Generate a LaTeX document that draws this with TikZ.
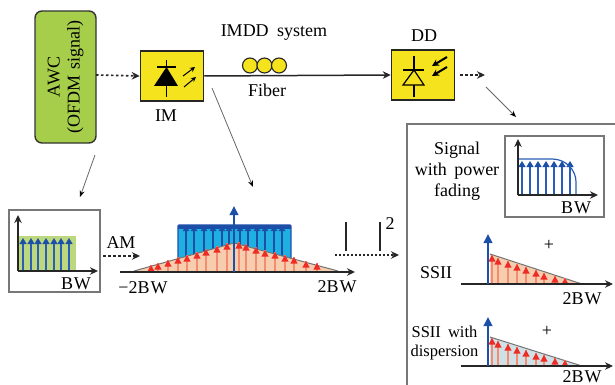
\documentclass[tikz,border=0pt]{standalone}
\usepackage{fontspec}
\setmainfont{Liberation Serif}
\usetikzlibrary{arrows.meta}
\definecolor{awcgreen}{HTML}{A6CE4B}
\definecolor{boxyellow}{HTML}{F5E31E}
\definecolor{sigblue}{HTML}{2A5DB5}
\definecolor{deepblue}{HTML}{1B4FA8}
\definecolor{skyblue}{HTML}{1FB0E2}
\definecolor{softgreen}{HTML}{BDD77E}
\definecolor{peach}{HTML}{F6CDAE}
\definecolor{paleblue}{HTML}{CFE1E6}
\definecolor{sigred}{HTML}{EE2B24}
\definecolor{salmon}{HTML}{F58C70}
\definecolor{panelgray}{HTML}{777777}
\newcommand{\redspike}[3]{%
  \draw[line width=1.1pt,salmon] (#1,#2) -- (#1,#3);
  \fill[sigred] (#1,#3) -- ++(3.6,6.5) -- ++(-7.2,0) -- cycle;}
\tikzset{
  lbl/.style={inner sep=0pt,font=\fontsize{18}{20}\selectfont},
  smalllbl/.style={inner sep=0pt,font=\fontsize{16.5}{18}\selectfont},
  devbox/.style={draw=black!85,line width=1.5pt,fill=boxyellow,minimum width=63pt,minimum height=50pt,inner sep=0pt},
  dotarrow/.style={line width=1.7pt,dash pattern=on 2.5pt off 2.5pt,-{Stealth[length=8pt,width=7.5pt]},black!85},
  solidarrow/.style={line width=1.5pt,-{Stealth[length=8pt,width=7.5pt]},black!85},
  greyarrow/.style={line width=.8pt,draw=black!60,-{Stealth[length=6.5pt,width=5pt,black]}},
  axisline/.style={line width=1.5pt,black!85,-{Stealth[length=8pt,width=7.5pt]}},
  framebox/.style={draw=panelgray,line width=1.2pt},
  bluearrow/.style={line width=1.2pt,sigblue,-{Triangle[length=6pt,width=7pt,deepblue]}},
  mainarrow/.style={line width=2pt,deepblue,-{Triangle[length=9pt,width=8.5pt]}},
  coil/.style={circle,draw=black!85,line width=1.1pt,fill=boxyellow,minimum size=15pt,inner sep=0pt},
}
\begin{document}
\begin{tikzpicture}[x=1pt,y=-1pt]
\useasboundingbox (0,0) rectangle (615,385);
% source
\node[draw=black!80,line width=1.4pt,fill=awcgreen,rounded corners=7pt,minimum width=61pt,minimum height=132pt,inner sep=0pt] (awc) at (65.5,77) {};
\node[lbl,rotate=90,align=center] (awctext) at (65.5,77) {AWC\\[0pt](OFDM\hspace{2pt} signal)};
% devices
\node[devbox] (im) at (172,76) {};
\node[devbox] (dd) at (423,75) {};
\node[lbl] (imtext) at (166,116) {IM};
\node[lbl] (ddtext) at (424,36) {DD};
\node[lbl] (system) at (274,33) {IMDD\hspace{4pt} system};
\node[lbl] (fibertext) at (267,90) {Fiber};
\draw[solidarrow] (im.east) -- (dd.west);
\node[coil] (c1) at (250,65.5) {};
\node[coil] (c2) at (264.5,65.5) {};
\node[coil] (c3) at (279,65.5) {};
\coordinate (awcout) at (96,75);
\draw[dotarrow] (awcout) -- (im.west);
% IM symbol
\draw[line width=1.2pt] (166.5,60) -- (166.5,97) (157,67) -- (176,67);
\fill (166.5,67) -- (178,86) -- (154,86) -- cycle;
\draw[line width=1pt,-{Stealth[length=5pt,width=5pt]}] (183,76) -- (195,67);
\draw[line width=1pt,-{Stealth[length=5pt,width=5pt]}] (184,87) -- (196,77);
% DD symbol
\draw[line width=1.2pt] (414,56) -- (414,70) (414,85) -- (414,97) (403,70) -- (424,70);
\draw[line width=1.2pt] (414,70) -- (424,85) -- (403,85) -- cycle;
\draw[line width=2pt,-{Stealth[length=7pt,width=7pt]}] (447,57) -- (432,66);
\draw[line width=2pt,-{Stealth[length=7pt,width=7pt]}] (447,67) -- (432,76);
\coordinate (ddout) at (485,75);
\draw[dotarrow] (dd.east)++(5,0) -- (ddout);
% grey pointers
\coordinate (p1a) at (95,155); \coordinate (p1b) at (80,197);
\coordinate (p2a) at (212,88); \coordinate (p2b) at (253,187);
\coordinate (p3a) at (486,87); \coordinate (p3b) at (516,117);
\draw[greyarrow] (p1a) -- (p1b);
\draw[greyarrow] (p2a) -- (p2b);
\draw[greyarrow] (p3a) -- (p3b);
% input spectrum
\node[framebox,minimum width=91pt,minimum height=82pt,inner sep=0pt] (inbox) at (54.5,251) {};
\fill[softgreen] (19,236) rectangle (76,271);
\foreach \px in {23,31,38,46,54,61,69}
  \draw[bluearrow] (\px,271) -- (\px,238);
\coordinate (o1) at (18,271); \coordinate (x1) at (98,271); \coordinate (y1) at (18,215);
\draw[axisline] (o1) -- (y1);
\draw[axisline] (o1) -- (x1);
\node[lbl] (bw1) at (76,284) {B\hspace{1pt}W};
\node[lbl] (am) at (121,243) {AM};
\coordinate (ama) at (103,256); \coordinate (amb) at (140,256);
\draw[dotarrow] (ama) -- (amb);
% double sideband spectrum
\fill[skyblue] (178,225) rectangle (291,258);
\draw[deepblue,line width=1.3pt,rounded corners=1pt] (178,258) -- (178,225) -- (291,225) -- (291,258);
\fill[deepblue] (178,225) rectangle (291,229);
\foreach \px in {186,194,204,213,222,229,240,248,257,265,274,282}
  \draw[line width=1.2pt,deepblue,-{Triangle[length=5pt,width=6.5pt]}] (\px,262) -- (\px,226);
\fill[peach] (134,271) -- (234,243) -- (338,271) -- cycle;
\draw[black!55,line width=1pt] (134,271) -- (234,243) -- (338,271);
\foreach \px/\py in {151/265,158/263,168/260,178/257,187/255,197/252,206/249,217/246,227/243,239/242,246/244,256/247,265/250,275/252,285/255,294/257,306/261,317/263}
  \redspike{\px}{271}{\py};
\coordinate (x2a) at (120,272); \coordinate (x2b) at (355,272);
\draw[axisline] (x2a) -- (x2b);
\coordinate (c2a) at (234,272); \coordinate (c2b) at (234,206);
\draw[mainarrow] (c2a) -- (c2b);
\node[lbl] (m2bw) at (143,288) {−2B\hspace{1pt}W};
\node[lbl] (p2bw) at (337,287) {2B\hspace{1pt}W};
% square law
\coordinate (b1a) at (346,222); \coordinate (b1b) at (346,251);
\coordinate (b2a) at (380,222); \coordinate (b2b) at (380,251);
\draw[line width=1.3pt,black!85] (b1a) -- (b1b) (b2a) -- (b2b);
\node[lbl] (two) at (390,224) {2};
\coordinate (sqa) at (335,255); \coordinate (sqb) at (399,255);
\draw[line width=1.1pt,dash pattern=on 2pt off 2pt,black!85,-{Stealth[length=8pt,width=7.5pt]}] (sqa) -- (sqb);
% right panel
\coordinate (pna) at (407,385); \coordinate (pnb) at (407,124); \coordinate (pnc) at (615,124);
\draw[framebox] (pna) -- (pnb) -- (pnc);
\node[lbl,align=center] (fadetext) at (457,171) {Signal\\[1pt]with\hspace{3pt} power\\[1pt]fading};
\node[framebox,minimum width=99pt,minimum height=81pt,inner sep=0pt] (fadebox) at (554.5,176.5) {};
\foreach \px in {522,530,538,546,554,562,570}
  \draw[bluearrow] (\px,195) -- (\px,161);
\draw[sigblue,line width=1.2pt] (518,195) -- (518,159) -- (552,159) .. controls (566,159) and (576,170) .. (576,182) -- (576,195);
\coordinate (o3) at (518,195); \coordinate (x3) at (598,195); \coordinate (y3) at (518,139);
\draw[axisline] (o3) -- (y3);
\draw[axisline] (o3) -- (x3);
\node[lbl] (bw3) at (576,208) {B\hspace{1pt}W};
% SSII
\fill[peach] (490,254) -- (582,284) -- (490,284) -- cycle;
\draw[black!55,line width=1pt] (490,254) -- (582,284);
\foreach \px/\py in {492/255,498/258,508/261,517/264,526/267,536/270,544/273,555/276,565/278}
  \redspike{\px}{284}{\py};
\coordinate (x4a) at (461,284); \coordinate (x4b) at (613,284);
\draw[axisline] (x4a) -- (x4b);
\coordinate (m4a) at (488,284); \coordinate (m4b) at (488,234);
\draw[mainarrow] (m4a) -- (m4b);
\node[lbl] (ssii) at (436,273) {SSII};
\node[lbl] (plus1) at (549,245) {+};
\node[lbl] (bw4) at (582,299) {2B\hspace{1pt}W};
% SSII with dispersion
\fill[paleblue] (490,337) -- (582,366) -- (490,366) -- cycle;
\draw[black!55,line width=1pt] (490,337) -- (582,366);
\foreach \px/\py in {492/338,498/341,508/344,517/347,526/350,536/353,544/355,555/358,565/360}
  \redspike{\px}{366}{\py};
\coordinate (x5a) at (461,366); \coordinate (x5b) at (613,366);
\draw[axisline] (x5a) -- (x5b);
\coordinate (m5a) at (488,366); \coordinate (m5b) at (488,317);
\draw[mainarrow] (m5a) -- (m5b);
\node[smalllbl,align=center] (ssiid) at (444.5,343) {SSII\hspace{3pt} with\\[1pt]dispersion};
\node[lbl] (plus2) at (547,331) {+};
\node[lbl] (bw5) at (582,376.5) {2B\hspace{1pt}W};
\end{tikzpicture}
\end{document}
